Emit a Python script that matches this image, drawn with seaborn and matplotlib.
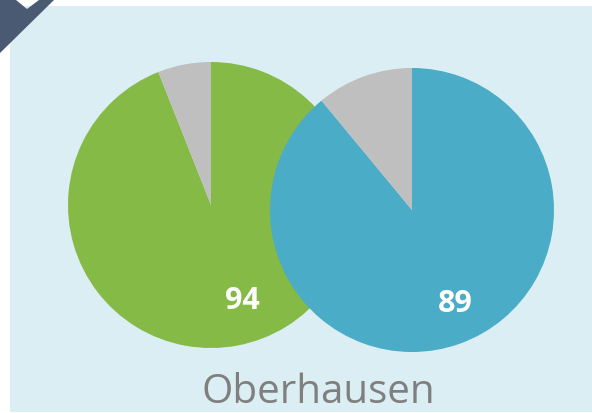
import matplotlib
matplotlib.use("Agg")
import matplotlib.pyplot as plt
import seaborn as sns
from matplotlib.patches import Rectangle, Polygon

# data
city = "Oberhausen"
series_names = ["Gruen", "Blau"]
values_main = [94, 89]
colors_main = ["#84BA45", "#4AACC6"]
rest_color = "#BFBFBF"

sns.set_style("white")
plt.rcParams['font.family'] = ['Open Sans', 'DejaVu Sans']

W, H = 592, 413
fig = plt.figure(figsize=(W / 100, H / 100), dpi=100)
fig.patch.set_facecolor("white")

# axes in pixel units, y up
ax = fig.add_axes([0, 0, 1, 1])

# light blue panel
ax.add_patch(Rectangle((10, 1), W - 10, 406, facecolor="#DAEEF3", edgecolor="none", zorder=0))

# dark corner ribbon
corner = [(0, H), (16, H), (27, H - 9), (39, H), (54, H), (0, H - 53)]
ax.add_patch(Polygon(corner, closed=True, facecolor="#4B5A73", edgecolor="none", zorder=5))

# pie layout (pixel centres, radii, label offsets)
centers = [(211, H - 205), (412, H - 210)]
radii = [143, 142]
label_pos = [(242, H - 301), (455, H - 304)]

for i, v in enumerate(values_main):
    ax.pie([v, 100 - v], colors=[colors_main[i], rest_color], startangle=90,
           counterclock=False, center=centers[i], radius=radii[i],
           wedgeprops=dict(linewidth=0, zorder=1 + i), frame=True)
    ax.text(label_pos[i][0], label_pos[i][1], str(v), color="white",
            fontsize=22, fontweight="bold", ha="center", va="center", zorder=10)

ax.set_xlim(0, W)
ax.set_ylim(0, H)
ax.set_aspect("equal")
ax.axis("off")

ax.text(318, H - 393, city, color="#7F7F7F", fontsize=29, ha="center", va="center", zorder=10)

fig.savefig("out.png", dpi=100)
